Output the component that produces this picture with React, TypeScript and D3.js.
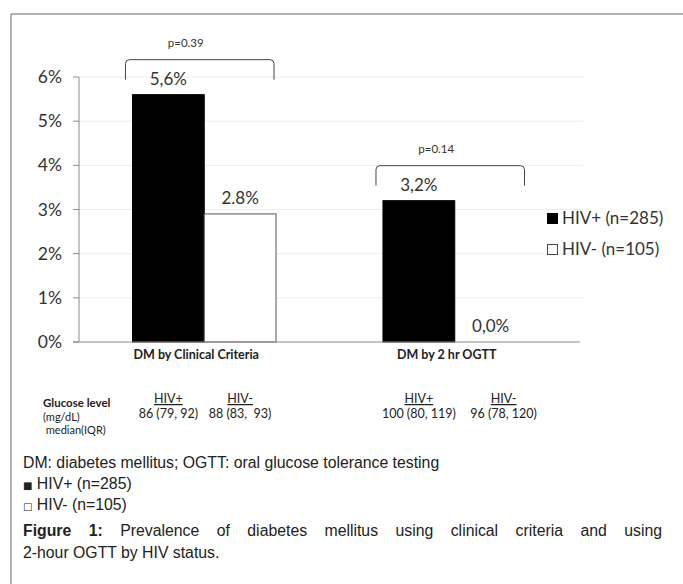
import React, { useLayoutEffect, useRef, useState } from 'react';
import * as d3 from 'd3';

const W = 683;
const H = 584;

const categories = ['DM by Clinical Criteria', 'DM by 2 hr OGTT'];
const seriesNames = ['HIV+ (n=285)', 'HIV- (n=105)'];
const hivPos = [5.6, 3.2];
const hivNeg = [2.9, 0];
const hivPosLabels = ['5,6%', '3,2%'];
const hivNegLabels = ['2.8%', '0,0%'];
const pValues = ['p=0.39', 'p=0.14'];
const yTicks = [0, 1, 2, 3, 4, 5, 6];

const glucoseHeaders = ['HIV+', 'HIV-'];
const glucosePos = ['86 (79, 92)', '100 (80, 119)'];
const glucoseNeg = ['88 (83,  93)', '96 (78, 120)'];
const glucoseTitle = ['Glucose level', '(mg/dL)', ' median(IQR)'];

const footnoteLine = 'DM: diabetes mellitus; OGTT: oral glucose tolerance testing';
const footnoteKeys = ['HIV+ (n=285)', 'HIV- (n=105)'];
const captionBold = 'Figure 1:';
const captionLine1 = ' Prevalence of diabetes mellitus using clinical criteria and using';
const captionLine2 = '2-hour OGTT by HIV status.';

const PLOT = { left: 79, right: 580, top: 77, bottom: 342 };
const CHART_FONT = 'Lato, "Open Sans", sans-serif';
const NOTE_FONT = '"Liberation Sans", Arial, sans-serif';
const AXIS = '#8c8c8c';
const INK = '#333';

export default function App() {
  const captionRef = useRef<SVGTextElement>(null);
  const [wordSpacing, setWordSpacing] = useState(0);

  useLayoutEffect(() => {
    // justify the first caption line to the right margin
    const el = captionRef.current;
    if (!el) return;
    const w = el.getComputedTextLength();
    const spaces = (captionBold + captionLine1).split(' ').length - 1;
    setWordSpacing(Math.max(0, (662 - 23 - w) / spaces));
  }, []);

  const y = d3.scaleLinear().domain([0, 6]).range([PLOT.bottom, PLOT.top]);
  const x = d3.scaleBand<string>().domain(categories).range([PLOT.left, PLOT.right]);
  const xSub = d3
    .scaleBand<string>()
    .domain(seriesNames)
    .range([0, x.bandwidth()])
    .paddingInner(0)
    .paddingOuter(0.745);

  const bw = xSub.bandwidth();
  const values = [hivPos, hivNeg];
  const labels = [hivPosLabels, hivNegLabels];
  const glucoseVals = [glucosePos, glucoseNeg];

  return (
    <svg
      width={W}
      height={H}
      style={{ position: 'absolute', left: 0, top: 0, background: '#fff' }}
    >
      {/* frame */}
      <line x1={11} x2={W} y1={14} y2={14} stroke="#9a9a9a" strokeWidth={1.5} />
      <line x1={11} x2={11} y1={14} y2={H} stroke="#9a9a9a" strokeWidth={1.5} />

      {/* gridlines + y axis */}
      {yTicks.map((t) => (
        <g key={t}>
          {t > 0 && (
            <line
              x1={PLOT.left}
              x2={PLOT.right + 3}
              y1={y(t)}
              y2={y(t)}
              stroke="#ececec"
            />
          )}
          <line x1={PLOT.left - 6} x2={PLOT.left} y1={y(t)} y2={y(t)} stroke={AXIS} />
          <text
            x={62}
            y={y(t) + 6}
            textAnchor="end"
            fontFamily={CHART_FONT}
            fontSize={17.5}
            fill={INK}
          >
            {t}%
          </text>
        </g>
      ))}
      <line x1={PLOT.left} x2={PLOT.left} y1={PLOT.top} y2={PLOT.bottom} stroke={AXIS} />

      {/* bars */}
      {categories.map((c, ci) => (
        <g key={c} transform={`translate(${x(c)},0)`}>
          {seriesNames.map((s, si) => {
            const v = values[si][ci];
            const bx = xSub(s)!;
            return (
              <g key={s}>
                {v > 0 && (
                  <rect
                    x={bx}
                    y={y(v)}
                    width={bw}
                    height={y(0) - y(v)}
                    fill={si === 0 ? '#000' : '#fff'}
                    stroke={si === 0 ? '#000' : '#555'}
                    strokeWidth={1}
                  />
                )}
                <text
                  x={bx + bw / 2}
                  y={y(v) - 10}
                  textAnchor="middle"
                  fontFamily={CHART_FONT}
                  fontSize={17}
                  fill={INK}
                >
                  {labels[si][ci]}
                </text>
              </g>
            );
          })}
        </g>
      ))}

      {/* x axis */}
      <line x1={PLOT.left - 6} x2={PLOT.right} y1={PLOT.bottom} y2={PLOT.bottom} stroke={AXIS} />
      {categories.map((c) => (
        <text
          key={c}
          x={x(c)! + x.bandwidth() / 2 - 8}
          y={PLOT.bottom + 17}
          textAnchor="middle"
          fontFamily={CHART_FONT}
          fontWeight="bold"
          fontSize={12.5}
          fill="#222"
        >
          {c}
        </text>
      ))}

      {/* significance brackets */}
      {categories.map((c, ci) => {
        const x1 = x(c)! + xSub(seriesNames[0])! - 7;
        const x2 = x(c)! + xSub(seriesNames[1])! + bw - 2;
        const top = y(Math.max(hivPos[ci], hivNeg[ci])) - 35;
        const bottom = top + 20;
        const r = 4;
        const p = d3.path();
        p.moveTo(x1, bottom);
        p.lineTo(x1, top + r);
        p.quadraticCurveTo(x1, top, x1 + r, top);
        p.lineTo(x2 - r, top);
        p.quadraticCurveTo(x2, top, x2, top + r);
        p.lineTo(x2, bottom);
        return (
          <g key={c}>
            <path d={p.toString()} fill="none" stroke="#444" strokeWidth={1} />
            <text
              x={(x1 + x2) / 2 - 14}
              y={top - 13}
              textAnchor="middle"
              fontFamily={CHART_FONT}
              fontSize={11.5}
              fill={INK}
            >
              {pValues[ci]}
            </text>
          </g>
        );
      })}

      {/* legend */}
      {seriesNames.map((s, si) => (
        <g key={s} transform={`translate(547,${213 + si * 31})`}>
          <rect
            x={0.5}
            y={0.5}
            width={10}
            height={10}
            fill={si === 0 ? '#000' : '#fff'}
            stroke={si === 0 ? '#000' : '#444'}
          />
          <text x={15} y={11} fontFamily={CHART_FONT} fontSize={17} fill={INK}>
            {s}
          </text>
        </g>
      ))}

      {/* glucose table */}
      {glucoseTitle.map((t, i) => (
        <text
          key={t}
          x={43}
          y={407 + i * 13.5}
          fontFamily={CHART_FONT}
          fontSize={i === 0 ? 11.5 : 11}
          fontWeight={i === 0 ? 'bold' : 'normal'}
          fill="#222"
          style={{ whiteSpace: 'pre' }}
        >
          {t}
        </text>
      ))}
      {categories.map((c, ci) =>
        seriesNames.map((s, si) => {
          const cx = x(c)! + xSub(s)! + bw / 2 + (ci === 1 && si === 1 ? 13 : 0);
          return (
            <g key={c + s} fontFamily={CHART_FONT} fill="#222" textAnchor="middle">
              <text x={cx} y={403} fontSize={12.5} textDecoration="underline">
                {glucoseHeaders[si]}
              </text>
              <text x={cx} y={418} fontSize={12.5} style={{ whiteSpace: 'pre' }}>
                {glucoseVals[si][ci]}
              </text>
            </g>
          );
        })
      )}

      {/* notes and caption */}
      <g fontFamily={NOTE_FONT} fontSize={15.8} fill="#222">
        <text x={23} y={468}>{footnoteLine}</text>
        {footnoteKeys.map((k, i) => (
          <text key={k} x={23} y={489 + i * 20.5}>
            <tspan fontSize={10} fontFamily="DejaVu Sans">{i === 0 ? '■' : '□'}</tspan>
            <tspan> {k}</tspan>
          </text>
        ))}
        <text ref={captionRef} x={23} y={536} style={{ wordSpacing: `${wordSpacing}px` }}>
          <tspan fontWeight="bold">{captionBold}</tspan>
          <tspan>{captionLine1}</tspan>
        </text>
        <text x={23} y={558}>{captionLine2}</text>
      </g>
    </svg>
  );
}
